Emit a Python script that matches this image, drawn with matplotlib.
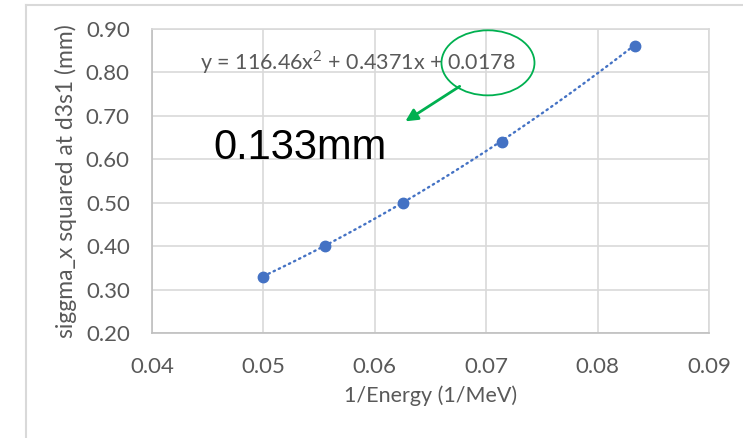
import numpy as np
import matplotlib.pyplot as plt
from matplotlib.patches import Ellipse
from matplotlib.lines import Line2D

# Datos (1/E vs sigma_x^2)
inv_energy = [1/20, 1/18, 1/16, 1/14, 1/12]
sigma2 = [0.33, 0.40, 0.50, 0.64, 0.86]
# coeficientes del ajuste (los que muestra el grafico)
coef = [116.46, 0.4371, 0.0178]

xticks = [0.04, 0.05, 0.06, 0.07, 0.08, 0.09]
yticks = [0.20, 0.30, 0.40, 0.50, 0.60, 0.70, 0.80, 0.90]

azul = '#4472C4'
gris_txt = '#595959'
gris_grid = '#D9D9D9'
verde = '#00B050'

plt.rcParams['font.family'] = ['Lato', 'DejaVu Sans']

fig = plt.figure(figsize=(7.43, 4.38), dpi=100)
ax = fig.add_axes([152/743, 1 - 333/438, (709-152)/743, (333-29)/438])

# Linea de tendencia polinomica
xx = np.linspace(inv_energy[0], inv_energy[-1], 200)
yy = np.polyval(coef, xx)
ax.plot(xx, yy, linestyle=(0, (0.6, 1.8)), dash_capstyle='round', color=azul, lw=1.7, zorder=3)
ax.plot(inv_energy, sigma2, 'o', color=azul, markersize=7.5, zorder=4)

ax.set_xlim(0.04, 0.09)
ax.set_ylim(0.20, 0.90)
ax.set_xticks(xticks)
ax.set_yticks(yticks)
ax.set_xticklabels([f'{t:.2f}' for t in xticks])
ax.set_yticklabels([f'{t:.2f}' for t in yticks])
ax.tick_params(length=0, labelsize=16, labelcolor=gris_txt)
ax.tick_params(axis='y', pad=16)
ax.tick_params(axis='x', pad=17)
ax.grid(True, color=gris_grid, lw=1.2)
ax.set_axisbelow(True)
for s in ['top', 'right']:
    ax.spines[s].set_color(gris_grid)
    ax.spines[s].set_linewidth(1.2)
for s in ['left', 'bottom']:
    ax.spines[s].set_color('#BFBFBF')
    ax.spines[s].set_linewidth(1.2)

ax.set_xlabel('1/Energy (1/MeV)', fontsize=15.5, color=gris_txt, labelpad=6)
ax.set_ylabel('siggma_x squared at d3s1 (mm)', fontsize=16.5, color=gris_txt, labelpad=6)

# Ecuacion del ajuste
ax.text(0.04431, 0.8244, f'y = {coef[0]}x$^{{\\mathregular{{2}}}}$ + {coef[1]}x + {coef[2]}',
        fontsize=15.5, color=gris_txt, ha='left', va='center')

# Anotaciones
ax.add_patch(Ellipse((0.07016, 0.8221), 0.00835, 0.1498, fill=False,
                     edgecolor=verde, lw=1.3, clip_on=False, zorder=5))
ax.annotate('', xy=(0.06253, 0.6839), xytext=(0.06783, 0.7714),
            arrowprops=dict(arrowstyle='-|>', color=verde, lw=2, mutation_scale=18))
ax.text(0.04548, 0.6263, '0.133mm', fontsize=30, family='Liberation Sans',
        color='black', ha='left', va='center')

# Marco exterior del grafico
fig.add_artist(Line2D([26/743, 26/743], [0, 1 - 5/438], color=gris_grid, lw=1.5))
fig.add_artist(Line2D([26/743, 1], [1 - 5/438, 1 - 5/438], color=gris_grid, lw=1.5))

fig.savefig('out.png', dpi=100, facecolor='white')
